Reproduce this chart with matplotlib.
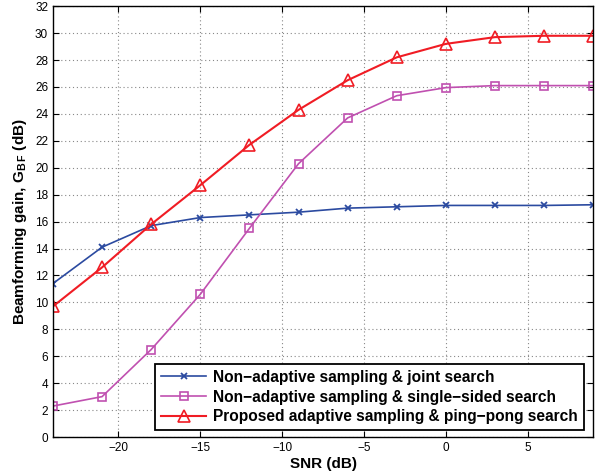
import matplotlib
matplotlib.use("Agg")
import matplotlib.pyplot as plt

plt.rcParams['font.family'] = ['Liberation Sans', 'DejaVu Sans']
plt.rcParams['mathtext.fontset'] = 'custom'
plt.rcParams['mathtext.bf'] = 'Liberation Sans:bold'
plt.rcParams['mathtext.rm'] = 'Liberation Sans'

snr = [-24, -21, -18, -15, -12, -9, -6, -3, 0, 3, 6, 9]
joint = [11.4, 14.1, 15.7, 16.3, 16.5, 16.7, 17.0, 17.1, 17.2, 17.2, 17.2, 17.25]
single = [2.3, 3.0, 6.5, 10.6, 15.5, 20.3, 23.7, 25.35, 25.95, 26.1, 26.1, 26.1]
proposed = [9.7, 12.6, 15.8, 18.7, 21.7, 24.3, 26.5, 28.2, 29.2, 29.7, 29.8, 29.8]
labels = ['Non\u2212adaptive sampling & joint search',
          'Non\u2212adaptive sampling & single\u2212sided search',
          'Proposed adaptive sampling & ping\u2212pong search']
xticks = [-20, -15, -10, -5, 0, 5]
yticks = list(range(0, 33, 2))

fig = plt.figure(figsize=(5.95, 4.74), dpi=100)
ax = fig.add_axes([0.089, 0.078, 0.908, 0.909])

ax.plot(snr, joint, color='#2b4aa0', marker='x', markersize=5, mew=1.3, lw=1.2, label=labels[0])
ax.plot(snr, single, color='#c050b0', marker='s', markersize=6, mfc='none', mew=1.2, lw=1.2, label=labels[1])
ax.plot(snr, proposed, color='#f01c24', marker='^', markersize=9, mfc='none', mew=1.2, lw=1.5, label=labels[2])

ax.set_xlim(-24, 9)
ax.set_ylim(0, 32)
ax.set_xticks(xticks)
ax.set_yticks(yticks)
ax.set_xticklabels([f'{t}'.replace('-', '\u2212') for t in xticks])
ax.tick_params(direction='in', length=4, labelsize=8.5, top=True, right=True, width=0.8)
ax.grid(True, linestyle=(0, (1, 2.5)), color='#888888', lw=0.8)
for s in ax.spines.values():
    s.set_linewidth(1.0)

ax.set_xlabel('SNR (dB)', fontsize=11, fontweight='bold', labelpad=2)
ax.set_ylabel(r'Beamforming gain, $\mathbf{G_{B\,F}}$ (dB)', fontsize=11, fontweight='bold', labelpad=4)

leg = ax.legend(loc='lower right', bbox_to_anchor=(0.988, 0.008), fancybox=False, edgecolor='black',
                framealpha=1, prop={'weight': 'bold', 'size': 11.2}, handlelength=2.9,
                borderpad=0.4, labelspacing=0.3, handletextpad=0.4, borderaxespad=0.2)
leg.get_frame().set_linewidth(1.3)

fig.savefig('out.png', dpi=100)
